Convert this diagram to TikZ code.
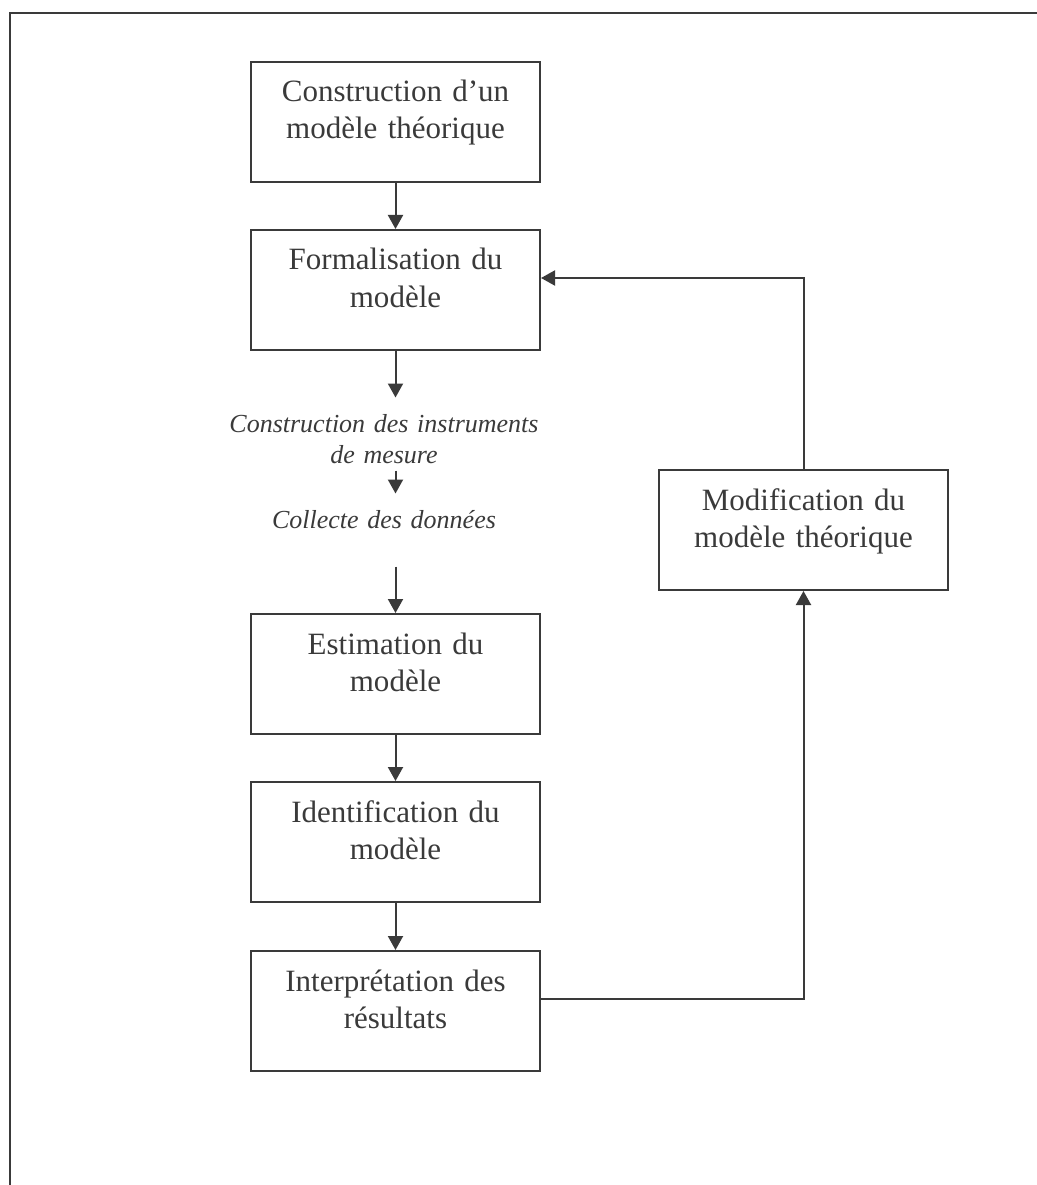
\documentclass[tikz,border=0pt]{standalone}
\usepackage{fontspec}
\setmainfont{Liberation Serif}
\usetikzlibrary{arrows.meta}
\definecolor{ink}{HTML}{3A3A3A}

\begin{document}
\begin{tikzpicture}[x=0.4pt,y=-0.4pt,
    every node/.style={text=ink,font=\fontsize{12.4}{14.8}\selectfont},
    box/.style={draw=ink,line width=0.8pt,inner sep=0pt,text width=115.6pt,
      align=center,text height=16pt,text depth=32pt},
    stage/.style={inner sep=0pt,text width=150pt,align=center,text height=13.6pt,
      text depth=15.2pt,font=\fontsize{10.4}{12.4}\selectfont\itshape},
    arr/.style={-{Triangle[length=5.6pt,width=6pt]},color=ink,line width=0.8pt}]
      \useasboundingbox (0,0) rectangle (1037,1185);
      \draw[ink,line width=0.8pt] (10,1185) -- (10,13) -- (1037,13);

      \node[box]   (construct-m) at (395.5,122)  {Construction d’un\\modèle théorique};
      \node[box]   (formal-m)    at (395.5,290)  {Formalisation du\\modèle};
      \node[stage] (instr-m)     at (384,434)    {Construction des instruments\\de mesure};
      \node[stage] (collect-d)   at (384,530)    {Collecte des données};
      \node[box]   (estim-m)     at (395.5,674)  {Estimation du\\modèle};
      \node[box]   (ident-m)     at (395.5,842)  {Identification du\\modèle};
      \node[box]   (interp-r)    at (395.5,1011) {Interprétation des\\résultats};
      \node[box]   (modif-m)     at (803.5,530)  {Modification du\\modèle théorique};

      \draw[arr] (construct-m) -- (formal-m);
      \draw[arr] (formal-m.south) -- (formal-m.south |- instr-m.north);
      \draw[arr] (formal-m.south |- instr-m.south) -- (formal-m.south |- collect-d.north);
      \draw[arr] (formal-m.south |- collect-d.south) -- (estim-m);
      \draw[arr] (estim-m) -- (ident-m);
      \draw[arr] (ident-m) -- (interp-r);

      % feedback loop
      \draw[arr] ([yshift=4.8pt]interp-r.east) -| (modif-m);
      \draw[arr] (modif-m) |- ([yshift=4.8pt]formal-m.east);
    \end{tikzpicture}
\end{document}
